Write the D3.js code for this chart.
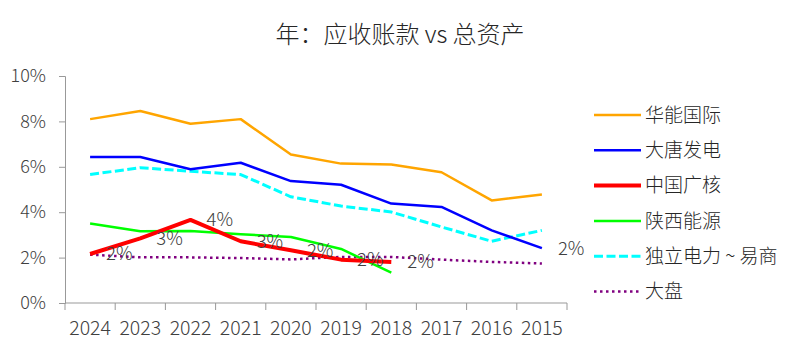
<!DOCTYPE html>
<html>
<head>
<meta charset="utf-8">
<script src="https://cdn.jsdelivr.net/npm/d3@7"></script>
<style>
  body { margin: 0; background: #fff; }
  text { font-family: "Noto Sans CJK SC", "Open Sans", sans-serif; font-weight: 300; }
</style>
</head>
<body>
<div id="chart"></div>
<script>
const years = ["2024", "2023", "2022", "2021", "2020", "2019", "2018", "2017", "2016", "2015"];
const yTicks = [0, 0.02, 0.04, 0.06, 0.08, 0.10];

const huaneng = [0.081, 0.0846, 0.079, 0.081, 0.0654, 0.0614, 0.061, 0.0576, 0.0452, 0.0478];
const datang = [0.0643, 0.0643, 0.0589, 0.0618, 0.0537, 0.0521, 0.0438, 0.0423, 0.032, 0.0242];
const cgn = [0.0216, 0.0285, 0.0366, 0.0272, 0.0232, 0.0191, 0.0181, null, null, null];
const shaanxi = [0.035, 0.0316, 0.0317, 0.0303, 0.0291, 0.0238, 0.0134, null, null, null];
const independent = [0.0566, 0.0596, 0.058, 0.0566, 0.0468, 0.0427, 0.0401, 0.0335, 0.0272, 0.032];
const market = [0.0213, 0.0201, 0.0201, 0.0198, 0.0192, 0.0203, 0.0203, 0.0191, 0.0181, 0.0174];

const series = [
  { name: "华能国际", values: huaneng, color: "#FFA500", width: 2.5, dash: null },
  { name: "大唐发电", values: datang, color: "#0000FF", width: 2.5, dash: null },
  { name: "中国广核", values: cgn, color: "#FF0000", width: 4, dash: null },
  { name: "陕西能源", values: shaanxi, color: "#00FF00", width: 2.5, dash: null },
  { name: "独立电力 ~ 易商", values: independent, color: "#00FFFF", width: 3, dash: "9,3.5" },
  { name: "大盘", values: market, color: "#800080", width: 2.5, dash: "2.5,3.5" }
];

// data labels: series name and year index
const labelPoints = [
  ["中国广核", 0], ["中国广核", 1], ["中国广核", 2], ["中国广核", 3],
  ["中国广核", 4], ["中国广核", 5], ["中国广核", 6], ["大唐发电", 9]
];

const width = 800;
const height = 353;
const margin = { top: 76, right: 233, bottom: 50, left: 65 };

const svg = d3.select("#chart")
  .append("svg")
  .attr("width", width)
  .attr("height", height);

svg.append("text")
  .attr("x", 400)
  .attr("y", 43)
  .attr("text-anchor", "middle")
  .attr("font-size", 24)
  .attr("fill", "#262626")
  .text("年：应收账款 vs 总资产");

const x = d3.scaleBand()
  .domain(years)
  .range([margin.left, width - margin.right]);

const y = d3.scaleLinear()
  .domain([0, 0.10])
  .range([height - margin.bottom, margin.top]);

// x axis
const xAxis = svg.append("g")
  .attr("transform", `translate(0, ${height - margin.bottom})`);
xAxis.append("line")
  .attr("x1", margin.left).attr("x2", width - margin.right)
  .attr("stroke", "#999");
xAxis.selectAll(".tick")
  .data(d3.range(years.length + 1))
  .join("line")
  .attr("x1", i => margin.left + i * x.step())
  .attr("x2", i => margin.left + i * x.step())
  .attr("y1", 0).attr("y2", 7)
  .attr("stroke", "#999");
xAxis.selectAll("text")
  .data(years)
  .join("text")
  .attr("x", d => x(d) + x.bandwidth() / 2)
  .attr("y", 32)
  .attr("text-anchor", "middle")
  .attr("font-size", 19.5)
  .attr("fill", "#404040")
  .text(d => d);

// y axis
const yAxis = svg.append("g")
  .attr("transform", `translate(${margin.left}, 0)`)
  .call(d3.axisLeft(y).tickValues(yTicks).tickFormat(d3.format(".0%")).tickSize(6).tickPadding(13));
yAxis.select(".domain").attr("stroke", "#999");
yAxis.selectAll(".tick line").attr("stroke", "#999");
yAxis.selectAll(".tick text")
  .attr("font-size", 18)
  .attr("fill", "#404040")
  .style("font-family", "\"Noto Sans CJK SC\", sans-serif")
  .style("font-weight", 300);

const line = d3.line()
  .defined(d => d[1] != null)
  .x(d => x(d[0]) + x.bandwidth() / 2)
  .y(d => y(d[1]));

// draw in reverse so that the first series sits on top
series.slice().reverse().forEach(s => {
  svg.append("path")
    .datum(years.map((yr, i) => [yr, s.values[i]]))
    .attr("fill", "none")
    .attr("stroke", s.color)
    .attr("stroke-width", s.width)
    .attr("stroke-dasharray", s.dash)
    .attr("stroke-linejoin", "round")
    .attr("d", line);
});

// data labels
svg.append("g")
  .selectAll("text")
  .data(labelPoints)
  .join("text")
  .attr("x", d => x(years[d[1]]) + x.bandwidth() / 2 + 16)
  .attr("y", d => y(series.find(s => s.name === d[0]).values[d[1]]))
  .attr("dy", "0.35em")
  .attr("font-size", 18.5)
  .attr("fill", "#404040")
  .text(d => d3.format(".0%")(series.find(s => s.name === d[0]).values[d[1]]));

// legend
const legend = svg.append("g")
  .attr("transform", "translate(594, 115)");
const rows = legend.selectAll("g")
  .data(series)
  .join("g")
  .attr("transform", (d, i) => `translate(0, ${i * 35.3})`);
rows.append("line")
  .attr("x1", 0).attr("x2", 47)
  .attr("stroke", d => d.color)
  .attr("stroke-width", d => d.width)
  .attr("stroke-dasharray", d => d.dash);
rows.append("text")
  .attr("x", 51)
  .attr("dy", "0.35em")
  .attr("font-size", 19)
  .attr("fill", "#262626")
  .text(d => d.name);
</script>
</body>
</html>
